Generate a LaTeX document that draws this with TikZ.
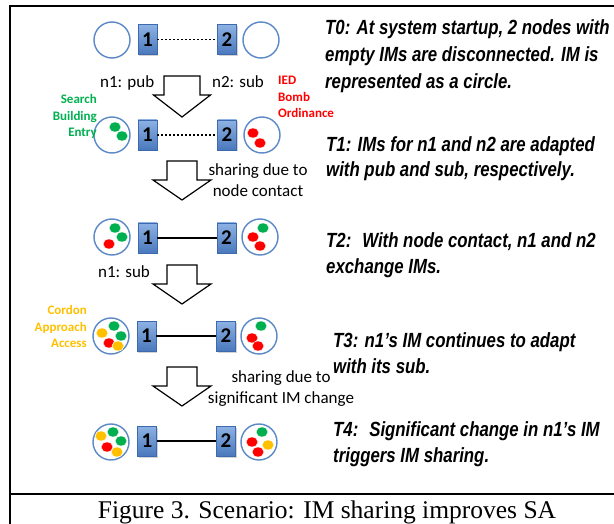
\documentclass[tikz,border=0pt]{standalone}
\usepackage{fontspec}
\setmainfont{Liberation Serif}
\newfontfamily\calfont{Carlito}
\newfontfamily\narrowfont[FakeStretch=0.82]{Liberation Sans}
\usetikzlibrary{shadows}
\definecolor{imblue}{HTML}{5B89C6}
\definecolor{sqborder}{HTML}{3D6AAE}
\definecolor{sqlight}{HTML}{8DB2E4}
\definecolor{sqdark}{HTML}{4A78BC}
\definecolor{dgreen}{HTML}{00B050}
\definecolor{dred}{HTML}{FF0000}
\definecolor{dyellow}{HTML}{FFC000}
\newcommand\imdot[4]{\filldraw[imdotstyle,fill=#4] ([shift={(#2,#3)}]#1.center) ellipse [x radius=6pt, y radius=5pt];}
\begin{document}
\begin{tikzpicture}[x=1pt,y=-1pt,
  im/.style={circle, draw=imblue, line width=1.4pt, minimum size=36pt, inner sep=0pt, fill=white},
  sq/.style={rectangle, draw=sqborder, line width=0.8pt, minimum width=19pt, minimum height=30pt,
    inner sep=0pt, top color=sqlight, bottom color=sqdark,
    drop shadow={shadow xshift=1.2pt, shadow yshift=-1.5pt, opacity=0.35},
    font=\calfont\bfseries\fontsize{21}{21}\selectfont},
  dotlink/.style={line width=1.1pt, dash pattern=on 1.1pt off 2.9pt},
  solidlink/.style={line width=2pt},
  arrowline/.style={draw=black, fill=white, line width=1.2pt, line join=miter},
  lbl/.style={font=\calfont\fontsize{17}{21}\selectfont, inner sep=0pt, align=center},
  tag/.style={font=\calfont\bfseries\fontsize{13}{16.5}\selectfont, inner sep=0pt},
  desc/.style={font=\narrowfont\bfseries\itshape\fontsize{20.5}{25.5}\selectfont, inner sep=0pt, align=left, anchor=base west},
  imdotstyle/.style={draw=white, line width=0.5pt},
  blkarrow/.pic={\draw[arrowline] (-15,0) -- (15,0) -- (15,19) -- (29,19) -- (0,39) -- (-29,19) -- (-15,19) -- cycle;}
]
\useasboundingbox (0,0) rectangle (614,524);

% frame
\draw[line width=2.5pt] (614,6) -- (10,6) -- (10,524);
\draw[line width=2.5pt] (10,494) -- (614,494);

% row 0
\node[im] (l0) at (112,40) {};
\node[sq] (a0) at (147.5,39.5) {\raisebox{-5pt}{1}};
\node[sq] (b0) at (227,39.5) {\raisebox{-5pt}{2}};
\node[im] (r0) at (261,40) {};
\draw[dotlink] (a0) -- (b0);

% row 1
\node[im] (l1) at (112,135) {};
\node[sq] (a1) at (147.5,135) {\raisebox{-5pt}{1}};
\node[sq] (b1) at (227,135) {\raisebox{-5pt}{2}};
\node[im] (r1) at (262,135) {};
\draw[dotlink] (a1) -- (b1);
\imdot{l1}{3}{-8}{dgreen}
\imdot{l1}{10}{1}{dgreen}
\imdot{r1}{-9}{-2}{dred}
\imdot{r1}{-2}{8}{dred}

% row 2
\node[im] (l2) at (112,237) {};
\node[sq] (a2) at (147.5,238) {\raisebox{-5pt}{1}};
\node[sq] (b2) at (226.5,238) {\raisebox{-5pt}{2}};
\node[im] (r2) at (260,237) {};
\draw[solidlink] (a2) -- (b2);
\imdot{l2}{3}{-9}{dgreen}
\imdot{l2}{10}{0}{dgreen}
\imdot{l2}{-3}{7}{dred}
\imdot{r2}{3}{-9}{dgreen}
\imdot{r2}{-7}{0}{dred}
\imdot{r2}{0}{9}{dred}

% row 3
\node[im] (l3) at (111,336) {};
\node[sq] (a3) at (146.5,336) {\raisebox{-5pt}{1}};
\node[sq] (b3) at (226,336) {\raisebox{-5pt}{2}};
\node[im] (r3) at (259,336) {};
\draw[solidlink] (a3) -- (b3);
\imdot{l3}{3}{-10}{dgreen}
\imdot{l3}{-9}{-3}{dyellow}
\imdot{l3}{10}{0}{dgreen}
\imdot{l3}{-2}{7}{dred}
\imdot{l3}{7}{10}{dyellow}
\imdot{r3}{2}{-10}{dgreen}
\imdot{r3}{-7}{2}{dred}
\imdot{r3}{-1}{10}{dred}

% row 4
\node[im] (l4) at (111,442) {};
\node[sq] (a4) at (147,441) {\raisebox{-5pt}{1}};
\node[sq] (b4) at (226,441) {\raisebox{-5pt}{2}};
\node[im] (r4) at (259,442) {};
\draw[solidlink] (a4) -- (b4);
\imdot{l4}{-10}{-6}{dyellow}
\imdot{l4}{2}{-10}{dgreen}
\imdot{l4}{10}{-1}{dgreen}
\imdot{l4}{-4}{5}{dred}
\imdot{l4}{6}{10}{dyellow}
\imdot{r4}{3}{-10}{dgreen}
\imdot{r4}{-7}{0}{dred}
\imdot{r4}{9}{3}{dyellow}
\imdot{r4}{-1}{10}{dred}

% block arrows
\draw[arrowline] (164,76) -- (200,76) -- (200,95) -- (210.5,95) -- (182,117) -- (153.5,95) -- (164,95) -- cycle;
\pic at (182,161) {blkarrow};
\pic at (182,265) {blkarrow};
\pic at (182,367) {blkarrow};

% left labels
\node[lbl, anchor=base west] (pub) at (100,88) {n1: pub};
\node[lbl, anchor=base west] (sub2) at (212,88) {n2: sub};
\node[tag, text=dred, align=left, anchor=base west] (ied) at (278,118) {IED\\Bomb\\Ordinance};
\node[tag, text=dgreen, align=right, anchor=base east] (sbe) at (97,137) {Search\\Building\\Entry};
\node[lbl, anchor=base] (share1) at (258,197) {sharing due to\\node contact};
\node[lbl, anchor=base west] (sub1) at (98,278) {n1: sub};
\node[tag, text=dyellow, align=right, anchor=base east] (caa) at (87,348) {Cordon\\Approach\\Access};
\node[lbl, anchor=base] (share2) at (281,403) {sharing due to\\significant IM change};

% descriptions
\node[desc, font=\narrowfont\bfseries\itshape\fontsize{20.5}{27}\selectfont] (t0) at (325,89) {T0: At system startup, 2 nodes with\\empty IMs are disconnected. IM is\\represented as a circle.};
\node[desc] (t1) at (326,177) {T1: IMs for n1 and n2 are adapted\\with pub and sub, respectively.};
\node[desc] (t2) at (326,273) {T2:~ With node contact, n1 and n2\\exchange IMs.};
\node[desc] (t3) at (333,373) {T3: n1’s IM continues to adapt\\with its sub.};
\node[desc] (t4) at (333,462) {T4:~ Significant change in n1’s IM\\triggers IM sharing.};

% caption
\node[anchor=base, inner sep=0pt, font=\fontsize{25.5}{30}\selectfont] (cap) at (327,518) {Figure 3. Scenario: IM sharing improves SA};
\end{tikzpicture}
\end{document}
